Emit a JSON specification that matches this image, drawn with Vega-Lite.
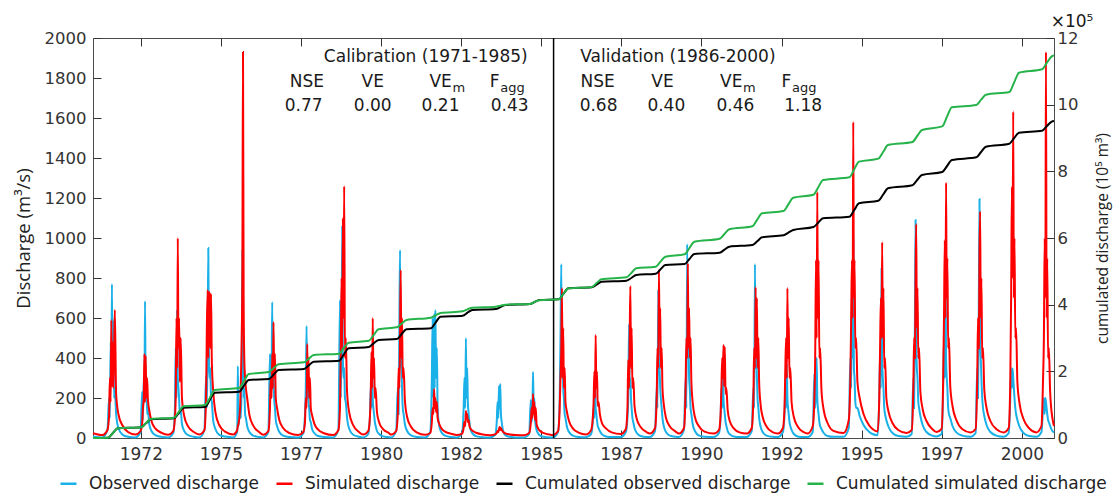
{
"$schema":"https://vega.github.io/schema/vega-lite/v6.json",
"width":961,"height":400,
"autosize":{"type":"none"},
"padding":{"left":93,"top":38,"right":63,"bottom":58},
"background":"#ffffff",
"config":{
"view":{"stroke":"#4d4d4d","strokeWidth":1},
"axis":{"domain":false,"grid":false,"tickColor":"#333333","tickSize":-8,"tickWidth":1,"labelFont":"DejaVu Sans","labelFontSize":16.5,"labelColor":"#333333","labelFlush":false,"labelOverlap":false,"titleFont":"Open Sans","titleFontSize":15.5,"titleFontWeight":"normal","titleColor":"#222222"},
"text":{"font":"DejaVu Sans","fontSize":17,"color":"#1a1a1a"}
},
"datasets":{
"q":[
{"t":1971.0,"o":8,"s":24},{"t":1971.29,"o":3,"s":15},{"t":1971.45,"o":40,"s":40},{"t":1971.5,"o":200,"s":110},{"t":1971.525,"o":100,"s":300},{"t":1971.55,"o":480,"s":180},{"t":1971.57,"o":300,"s":590},{"t":1971.59,"o":770,"s":260},{"t":1971.61,"o":280,"s":480},{"t":1971.63,"o":590,"s":250},{"t":1971.655,"o":200,"s":420},{"t":1971.68,"o":250,"s":640},{"t":1971.72,"o":120,"s":220},{"t":1971.79,"o":50,"s":120},{"t":1971.91,"o":18,"s":65},{"t":1972.09,"o":6,"s":30},
{"t":1972.32,"o":3,"s":17},{"t":1972.48,"o":30,"s":35},{"t":1972.53,"o":230,"s":70},{"t":1972.555,"o":90,"s":150},{"t":1972.58,"o":300,"s":200},{"t":1972.6,"o":180,"s":420},{"t":1972.62,"o":685,"s":180},{"t":1972.64,"o":220,"s":410},{"t":1972.66,"o":300,"s":200},{"t":1972.685,"o":120,"s":300},{"t":1972.71,"o":150,"s":190},{"t":1972.75,"o":70,"s":140},{"t":1972.82,"o":35,"s":85},{"t":1972.94,"o":14,"s":48},{"t":1973.12,"o":6,"s":27},
{"t":1973.34,"o":3,"s":16},{"t":1973.5,"o":25,"s":35},{"t":1973.55,"o":150,"s":100},{"t":1973.575,"o":450,"s":200},{"t":1973.6,"o":200,"s":600},{"t":1973.62,"o":640,"s":350},{"t":1973.64,"o":300,"s":1000},{"t":1973.66,"o":250,"s":450},{"t":1973.68,"o":200,"s":600},{"t":1973.705,"o":120,"s":280},{"t":1973.73,"o":140,"s":500},{"t":1973.77,"o":70,"s":200},{"t":1973.84,"o":35,"s":110},{"t":1973.96,"o":14,"s":58},{"t":1974.14,"o":6,"s":30},
{"t":1974.31,"o":3,"s":18},{"t":1974.47,"o":40,"s":40},{"t":1974.52,"o":310,"s":200},{"t":1974.545,"o":150,"s":560},{"t":1974.57,"o":500,"s":740},{"t":1974.59,"o":950,"s":400},{"t":1974.61,"o":400,"s":730},{"t":1974.63,"o":300,"s":720},{"t":1974.65,"o":350,"s":450},{"t":1974.675,"o":200,"s":720},{"t":1974.7,"o":180,"s":380},{"t":1974.74,"o":90,"s":240},{"t":1974.81,"o":45,"s":130},{"t":1974.93,"o":16,"s":65},{"t":1975.11,"o":7,"s":32},
{"t":1975.37,"o":3,"s":18},{"t":1975.49,"o":30,"s":40},{"t":1975.51,"o":360,"s":60},{"t":1975.53,"o":60,"s":70},{"t":1975.58,"o":150,"s":150},{"t":1975.605,"o":100,"s":300},{"t":1975.63,"o":300,"s":500},{"t":1975.65,"o":940,"s":820},{"t":1975.67,"o":600,"s":1930},{"t":1975.69,"o":200,"s":700},{"t":1975.71,"o":250,"s":400},{"t":1975.735,"o":120,"s":300},{"t":1975.76,"o":100,"s":250},{"t":1975.8,"o":60,"s":200},{"t":1975.87,"o":30,"s":115},{"t":1975.99,"o":12,"s":62},{"t":1976.17,"o":5,"s":30},
{"t":1976.3,"o":3,"s":16},{"t":1976.46,"o":30,"s":35},{"t":1976.51,"o":420,"s":150},{"t":1976.535,"o":200,"s":300},{"t":1976.56,"o":300,"s":200},{"t":1976.58,"o":680,"s":420},{"t":1976.6,"o":250,"s":250},{"t":1976.62,"o":350,"s":580},{"t":1976.64,"o":200,"s":300},{"t":1976.665,"o":150,"s":420},{"t":1976.69,"o":90,"s":200},{"t":1976.73,"o":60,"s":150},{"t":1976.8,"o":30,"s":90},{"t":1976.92,"o":12,"s":50},{"t":1977.1,"o":5,"s":26},
{"t":1977.39,"o":3,"s":15},{"t":1977.55,"o":25,"s":30},{"t":1977.6,"o":120,"s":80},{"t":1977.625,"o":250,"s":200},{"t":1977.65,"o":560,"s":150},{"t":1977.67,"o":200,"s":470},{"t":1977.69,"o":350,"s":250},{"t":1977.71,"o":180,"s":400},{"t":1977.73,"o":150,"s":200},{"t":1977.755,"o":90,"s":300},{"t":1977.78,"o":80,"s":150},{"t":1977.82,"o":45,"s":115},{"t":1977.89,"o":25,"s":72},{"t":1978.01,"o":10,"s":42},{"t":1978.19,"o":5,"s":24},
{"t":1978.48,"o":3,"s":15},{"t":1978.64,"o":40,"s":40},{"t":1978.69,"o":690,"s":150},{"t":1978.715,"o":200,"s":450},{"t":1978.74,"o":500,"s":800},{"t":1978.76,"o":1060,"s":450},{"t":1978.78,"o":400,"s":1100},{"t":1978.8,"o":300,"s":600},{"t":1978.82,"o":350,"s":1260},{"t":1978.845,"o":200,"s":400},{"t":1978.87,"o":180,"s":500},{"t":1978.91,"o":100,"s":230},{"t":1978.98,"o":45,"s":125},{"t":1979.1,"o":16,"s":64},{"t":1979.28,"o":6,"s":30},
{"t":1979.41,"o":3,"s":17},{"t":1979.57,"o":20,"s":35},{"t":1979.62,"o":100,"s":100},{"t":1979.645,"o":250,"s":200},{"t":1979.67,"o":150,"s":430},{"t":1979.69,"o":430,"s":250},{"t":1979.71,"o":200,"s":600},{"t":1979.73,"o":150,"s":300},{"t":1979.75,"o":120,"s":400},{"t":1979.775,"o":80,"s":200},{"t":1979.8,"o":60,"s":250},{"t":1979.84,"o":35,"s":130},{"t":1979.91,"o":20,"s":78},{"t":1980.03,"o":8,"s":44},{"t":1980.21,"o":4,"s":25},
{"t":1980.28,"o":3,"s":17},{"t":1980.44,"o":35,"s":35},{"t":1980.49,"o":250,"s":120},{"t":1980.515,"o":120,"s":350},{"t":1980.54,"o":600,"s":250},{"t":1980.56,"o":940,"s":500},{"t":1980.58,"o":350,"s":840},{"t":1980.6,"o":400,"s":400},{"t":1980.62,"o":250,"s":600},{"t":1980.645,"o":150,"s":300},{"t":1980.67,"o":120,"s":350},{"t":1980.71,"o":70,"s":190},{"t":1980.78,"o":35,"s":105},{"t":1980.9,"o":13,"s":56},{"t":1981.08,"o":5,"s":28},
{"t":1981.34,"o":3,"s":16},{"t":1981.5,"o":30,"s":25},{"t":1981.55,"o":300,"s":80},{"t":1981.575,"o":600,"s":150},{"t":1981.6,"o":200,"s":120},{"t":1981.62,"o":620,"s":245},{"t":1981.64,"o":250,"s":150},{"t":1981.66,"o":640,"s":200},{"t":1981.68,"o":300,"s":130},{"t":1981.705,"o":450,"s":180},{"t":1981.73,"o":150,"s":100},{"t":1981.77,"o":70,"s":75},{"t":1981.84,"o":30,"s":50},{"t":1981.96,"o":12,"s":32},{"t":1982.14,"o":5,"s":22},
{"t":1982.33,"o":3,"s":15},{"t":1982.49,"o":25,"s":22},{"t":1982.54,"o":150,"s":50},{"t":1982.565,"o":300,"s":80},{"t":1982.59,"o":150,"s":60},{"t":1982.61,"o":500,"s":135},{"t":1982.63,"o":200,"s":100},{"t":1982.65,"o":350,"s":120},{"t":1982.67,"o":180,"s":80},{"t":1982.695,"o":120,"s":90},{"t":1982.72,"o":80,"s":60},{"t":1982.76,"o":40,"s":45},{"t":1982.83,"o":20,"s":35},{"t":1982.95,"o":8,"s":25},{"t":1983.13,"o":4,"s":18},
{"t":1983.36,"o":3,"s":14},{"t":1983.52,"o":15,"s":18},{"t":1983.57,"o":80,"s":25},{"t":1983.595,"o":180,"s":35},{"t":1983.62,"o":100,"s":30},{"t":1983.64,"o":260,"s":45},{"t":1983.66,"o":150,"s":55},{"t":1983.68,"o":270,"s":40},{"t":1983.7,"o":120,"s":50},{"t":1983.725,"o":80,"s":40},{"t":1983.75,"o":50,"s":35},{"t":1983.79,"o":25,"s":28},{"t":1983.86,"o":12,"s":22},{"t":1983.98,"o":6,"s":18},{"t":1984.16,"o":3,"s":15},
{"t":1984.42,"o":3,"s":14},{"t":1984.58,"o":20,"s":25},{"t":1984.63,"o":190,"s":75},{"t":1984.655,"o":80,"s":150},{"t":1984.68,"o":120,"s":100},{"t":1984.7,"o":330,"s":220},{"t":1984.72,"o":150,"s":120},{"t":1984.74,"o":200,"s":180},{"t":1984.76,"o":100,"s":90},{"t":1984.785,"o":60,"s":150},{"t":1984.81,"o":40,"s":70},{"t":1984.85,"o":25,"s":50},{"t":1984.92,"o":12,"s":35},{"t":1985.04,"o":6,"s":24},{"t":1985.22,"o":3,"s":17},
{"t":1985.32,"o":3,"s":15},{"t":1985.48,"o":30,"s":35},{"t":1985.53,"o":200,"s":150},{"t":1985.555,"o":500,"s":300},{"t":1985.58,"o":870,"s":450},{"t":1985.6,"o":300,"s":750},{"t":1985.62,"o":400,"s":300},{"t":1985.64,"o":250,"s":550},{"t":1985.66,"o":200,"s":250},{"t":1985.685,"o":120,"s":350},{"t":1985.71,"o":100,"s":180},{"t":1985.75,"o":60,"s":135},{"t":1985.82,"o":30,"s":85},{"t":1985.94,"o":12,"s":48},{"t":1986.12,"o":5,"s":27},
{"t":1986.35,"o":4,"s":18},{"t":1986.51,"o":20,"s":40},{"t":1986.56,"o":80,"s":100},{"t":1986.585,"o":150,"s":173},{"t":1986.61,"o":100,"s":332},{"t":1986.63,"o":300,"s":200},{"t":1986.65,"o":150,"s":515},{"t":1986.67,"o":120,"s":250},{"t":1986.69,"o":90,"s":332},{"t":1986.715,"o":60,"s":160},{"t":1986.74,"o":50,"s":180},{"t":1986.78,"o":35,"s":120},{"t":1986.85,"o":18,"s":73},{"t":1986.97,"o":8,"s":48},{"t":1987.15,"o":5,"s":28},
{"t":1987.43,"o":5,"s":20},{"t":1987.59,"o":30,"s":45},{"t":1987.64,"o":100,"s":150},{"t":1987.665,"o":200,"s":390},{"t":1987.69,"o":570,"s":250},{"t":1987.71,"o":250,"s":500},{"t":1987.73,"o":300,"s":760},{"t":1987.75,"o":200,"s":350},{"t":1987.77,"o":150,"s":550},{"t":1987.795,"o":100,"s":250},{"t":1987.82,"o":80,"s":300},{"t":1987.86,"o":50,"s":160},{"t":1987.93,"o":25,"s":95},{"t":1988.05,"o":10,"s":55},{"t":1988.23,"o":5,"s":30},
{"t":1988.34,"o":5,"s":22},{"t":1988.5,"o":35,"s":50},{"t":1988.55,"o":250,"s":200},{"t":1988.575,"o":150,"s":450},{"t":1988.6,"o":740,"s":350},{"t":1988.62,"o":400,"s":840},{"t":1988.64,"o":350,"s":500},{"t":1988.66,"o":250,"s":650},{"t":1988.68,"o":200,"s":350},{"t":1988.705,"o":150,"s":450},{"t":1988.73,"o":100,"s":250},{"t":1988.77,"o":60,"s":170},{"t":1988.84,"o":30,"s":100},{"t":1988.96,"o":12,"s":58},{"t":1989.14,"o":6,"s":32},
{"t":1989.24,"o":5,"s":22},{"t":1989.4,"o":40,"s":50},{"t":1989.45,"o":300,"s":250},{"t":1989.475,"o":150,"s":500},{"t":1989.5,"o":970,"s":400},{"t":1989.52,"o":400,"s":875},{"t":1989.54,"o":500,"s":450},{"t":1989.56,"o":300,"s":650},{"t":1989.58,"o":250,"s":400},{"t":1989.605,"o":150,"s":500},{"t":1989.63,"o":120,"s":280},{"t":1989.67,"o":70,"s":180},{"t":1989.74,"o":35,"s":105},{"t":1989.86,"o":13,"s":60},{"t":1990.04,"o":6,"s":32},
{"t":1990.33,"o":5,"s":22},{"t":1990.49,"o":25,"s":40},{"t":1990.54,"o":100,"s":120},{"t":1990.565,"o":250,"s":250},{"t":1990.59,"o":150,"s":400},{"t":1990.61,"o":390,"s":300},{"t":1990.63,"o":200,"s":465},{"t":1990.65,"o":150,"s":260},{"t":1990.67,"o":120,"s":455},{"t":1990.695,"o":80,"s":220},{"t":1990.72,"o":60,"s":250},{"t":1990.76,"o":35,"s":140},{"t":1990.83,"o":18,"s":82},{"t":1990.95,"o":8,"s":48},{"t":1991.13,"o":5,"s":28},
{"t":1991.35,"o":5,"s":22},{"t":1991.51,"o":35,"s":50},{"t":1991.56,"o":250,"s":200},{"t":1991.585,"o":150,"s":450},{"t":1991.61,"o":870,"s":350},{"t":1991.63,"o":350,"s":755},{"t":1991.65,"o":450,"s":400},{"t":1991.67,"o":300,"s":700},{"t":1991.69,"o":200,"s":350},{"t":1991.715,"o":150,"s":500},{"t":1991.74,"o":100,"s":280},{"t":1991.78,"o":60,"s":175},{"t":1991.85,"o":30,"s":105},{"t":1991.97,"o":12,"s":58},{"t":1992.15,"o":6,"s":30},
{"t":1992.32,"o":5,"s":22},{"t":1992.48,"o":30,"s":50},{"t":1992.53,"o":120,"s":150},{"t":1992.555,"o":250,"s":350},{"t":1992.58,"o":150,"s":500},{"t":1992.6,"o":370,"s":300},{"t":1992.62,"o":200,"s":750},{"t":1992.64,"o":150,"s":400},{"t":1992.66,"o":120,"s":600},{"t":1992.685,"o":80,"s":300},{"t":1992.71,"o":60,"s":350},{"t":1992.75,"o":40,"s":180},{"t":1992.82,"o":20,"s":105},{"t":1992.94,"o":8,"s":58},{"t":1993.12,"o":5,"s":30},
{"t":1993.25,"o":5,"s":22},{"t":1993.41,"o":30,"s":60},{"t":1993.46,"o":323,"s":200},{"t":1993.485,"o":150,"s":407},{"t":1993.51,"o":250,"s":890},{"t":1993.53,"o":400,"s":500},{"t":1993.55,"o":200,"s":1230},{"t":1993.57,"o":150,"s":600},{"t":1993.59,"o":120,"s":890},{"t":1993.615,"o":80,"s":400},{"t":1993.64,"o":60,"s":450},{"t":1993.68,"o":45,"s":240},{"t":1993.75,"o":25,"s":140},{"t":1993.87,"o":10,"s":75},{"t":1994.05,"o":6,"s":36},
{"t":1994.37,"o":6,"s":25},{"t":1994.53,"o":50,"s":90},{"t":1994.58,"o":400,"s":300},{"t":1994.605,"o":250,"s":600},{"t":1994.63,"o":757,"s":890},{"t":1994.65,"o":400,"s":600},{"t":1994.67,"o":1000,"s":1580},{"t":1994.69,"o":350,"s":700},{"t":1994.71,"o":300,"s":890},{"t":1994.735,"o":180,"s":450},{"t":1994.76,"o":150,"s":500},{"t":1994.8,"o":150,"s":280},{"t":1994.87,"o":110,"s":200},{"t":1994.99,"o":65,"s":120},{"t":1995.17,"o":30,"s":62},
{"t":1995.27,"o":20,"s":45},{"t":1995.43,"o":14,"s":33},{"t":1995.48,"o":200,"s":200},{"t":1995.505,"o":420,"s":450},{"t":1995.53,"o":250,"s":700},{"t":1995.55,"o":850,"s":500},{"t":1995.57,"o":400,"s":980},{"t":1995.59,"o":300,"s":500},{"t":1995.61,"o":250,"s":750},{"t":1995.635,"o":150,"s":350},{"t":1995.66,"o":120,"s":400},{"t":1995.7,"o":90,"s":200},{"t":1995.77,"o":55,"s":130},{"t":1995.89,"o":25,"s":75},{"t":1996.07,"o":10,"s":40},
{"t":1996.33,"o":6,"s":25},{"t":1996.49,"o":20,"s":40},{"t":1996.54,"o":300,"s":250},{"t":1996.565,"o":150,"s":500},{"t":1996.59,"o":600,"s":400},{"t":1996.61,"o":1090,"s":800},{"t":1996.63,"o":500,"s":1070},{"t":1996.65,"o":350,"s":550},{"t":1996.67,"o":300,"s":750},{"t":1996.695,"o":180,"s":400},{"t":1996.72,"o":150,"s":450},{"t":1996.76,"o":110,"s":230},{"t":1996.83,"o":65,"s":145},{"t":1996.95,"o":30,"s":85},{"t":1997.13,"o":12,"s":45},
{"t":1997.26,"o":8,"s":30},{"t":1997.42,"o":20,"s":45},{"t":1997.47,"o":250,"s":300},{"t":1997.495,"o":500,"s":600},{"t":1997.52,"o":300,"s":990},{"t":1997.54,"o":850,"s":600},{"t":1997.56,"o":400,"s":1277},{"t":1997.58,"o":300,"s":700},{"t":1997.6,"o":250,"s":900},{"t":1997.625,"o":150,"s":450},{"t":1997.65,"o":120,"s":500},{"t":1997.69,"o":100,"s":260},{"t":1997.76,"o":60,"s":160},{"t":1997.88,"o":28,"s":90},{"t":1998.06,"o":12,"s":45},
{"t":1998.32,"o":6,"s":28},{"t":1998.48,"o":25,"s":45},{"t":1998.53,"o":350,"s":300},{"t":1998.555,"o":200,"s":600},{"t":1998.58,"o":700,"s":450},{"t":1998.6,"o":1195,"s":900},{"t":1998.62,"o":500,"s":1133},{"t":1998.64,"o":400,"s":600},{"t":1998.66,"o":300,"s":800},{"t":1998.685,"o":200,"s":400},{"t":1998.71,"o":150,"s":450},{"t":1998.75,"o":110,"s":240},{"t":1998.82,"o":65,"s":150},{"t":1998.94,"o":30,"s":85},{"t":1999.12,"o":12,"s":45},
{"t":1999.35,"o":6,"s":28},{"t":1999.51,"o":25,"s":50},{"t":1999.56,"o":200,"s":300},{"t":1999.585,"o":350,"s":700},{"t":1999.61,"o":250,"s":1257},{"t":1999.63,"o":348,"s":800},{"t":1999.65,"o":300,"s":1632},{"t":1999.67,"o":250,"s":700},{"t":1999.69,"o":200,"s":1000},{"t":1999.715,"o":150,"s":500},{"t":1999.74,"o":120,"s":550},{"t":1999.78,"o":90,"s":280},{"t":1999.85,"o":55,"s":170},{"t":1999.97,"o":25,"s":95},{"t":2000.15,"o":10,"s":48},
{"t":2000.37,"o":6,"s":28},{"t":2000.53,"o":30,"s":60},{"t":2000.58,"o":150,"s":300},{"t":2000.605,"o":200,"s":500},{"t":2000.63,"o":120,"s":1000},{"t":2000.65,"o":200,"s":700},{"t":2000.67,"o":180,"s":1930},{"t":2000.69,"o":150,"s":600},{"t":2000.71,"o":120,"s":900},{"t":2000.735,"o":90,"s":400},{"t":2000.76,"o":80,"s":450},{"t":2000.8,"o":60,"s":230},{"t":2000.87,"o":35,"s":100},{"t":2000.92,"o":28,"s":60}
],
"c":[
{"t":1971.0,"co":0,"cs":0},
{"t":1971.47,"co":0.01,"cs":0.01},{"t":1971.62,"co":0.15,"cs":0.15},{"t":1971.77,"co":0.29,"cs":0.29},
{"t":1972.5,"co":0.32,"cs":0.32},{"t":1972.65,"co":0.44,"cs":0.45},{"t":1972.8,"co":0.56,"cs":0.57},
{"t":1973.52,"co":0.59,"cs":0.61},{"t":1973.67,"co":0.75,"cs":0.78},{"t":1973.82,"co":0.91,"cs":0.95},
{"t":1974.49,"co":0.93,"cs":0.99},{"t":1974.64,"co":1.15,"cs":1.21},{"t":1974.79,"co":1.36,"cs":1.44},
{"t":1975.55,"co":1.39,"cs":1.5},{"t":1975.7,"co":1.57,"cs":1.71},{"t":1975.85,"co":1.74,"cs":1.92},
{"t":1976.48,"co":1.77,"cs":1.98},{"t":1976.63,"co":1.91,"cs":2.1},{"t":1976.78,"co":2.04,"cs":2.21},
{"t":1977.57,"co":2.07,"cs":2.27},{"t":1977.72,"co":2.18,"cs":2.38},{"t":1977.87,"co":2.29,"cs":2.49},
{"t":1978.66,"co":2.32,"cs":2.53},{"t":1978.81,"co":2.51,"cs":2.7},{"t":1978.96,"co":2.69,"cs":2.86},
{"t":1979.59,"co":2.73,"cs":2.92},{"t":1979.74,"co":2.84,"cs":3.09},{"t":1979.89,"co":2.94,"cs":3.26},
{"t":1980.46,"co":2.97,"cs":3.32},{"t":1980.61,"co":3.12,"cs":3.43},{"t":1980.76,"co":3.26,"cs":3.54},
{"t":1981.52,"co":3.29,"cs":3.61},{"t":1981.67,"co":3.47,"cs":3.68},{"t":1981.82,"co":3.64,"cs":3.75},
{"t":1982.51,"co":3.67,"cs":3.8},{"t":1982.66,"co":3.76,"cs":3.86},{"t":1982.81,"co":3.84,"cs":3.91},
{"t":1983.54,"co":3.87,"cs":3.94},{"t":1983.69,"co":3.93,"cs":3.97},{"t":1983.84,"co":3.99,"cs":4.0},
{"t":1984.6,"co":4.02,"cs":4.02},{"t":1984.75,"co":4.08,"cs":4.08},{"t":1984.9,"co":4.14,"cs":4.13},
{"t":1985.5,"co":4.16,"cs":4.16},{"t":1985.65,"co":4.33,"cs":4.33},{"t":1985.8,"co":4.49,"cs":4.49},
{"t":1986.53,"co":4.52,"cs":4.53},{"t":1986.68,"co":4.6,"cs":4.65},{"t":1986.83,"co":4.69,"cs":4.76},
{"t":1987.61,"co":4.72,"cs":4.82},{"t":1987.76,"co":4.8,"cs":4.95},{"t":1987.91,"co":4.89,"cs":5.09},
{"t":1988.52,"co":4.93,"cs":5.14},{"t":1988.67,"co":5.06,"cs":5.29},{"t":1988.82,"co":5.19,"cs":5.44},
{"t":1989.42,"co":5.22,"cs":5.51},{"t":1989.57,"co":5.37,"cs":5.7},{"t":1989.72,"co":5.52,"cs":5.89},
{"t":1990.51,"co":5.56,"cs":5.98},{"t":1990.66,"co":5.65,"cs":6.12},{"t":1990.81,"co":5.74,"cs":6.26},
{"t":1991.53,"co":5.79,"cs":6.35},{"t":1991.68,"co":5.9,"cs":6.55},{"t":1991.83,"co":6.02,"cs":6.74},
{"t":1992.5,"co":6.08,"cs":6.81},{"t":1992.65,"co":6.16,"cs":7.01},{"t":1992.8,"co":6.24,"cs":7.21},
{"t":1993.43,"co":6.33,"cs":7.3},{"t":1993.58,"co":6.46,"cs":7.52},{"t":1993.73,"co":6.59,"cs":7.74},
{"t":1994.55,"co":6.64,"cs":7.82},{"t":1994.7,"co":6.84,"cs":8.06},{"t":1994.85,"co":7.04,"cs":8.29},
{"t":1995.45,"co":7.12,"cs":8.38},{"t":1995.6,"co":7.3,"cs":8.58},{"t":1995.75,"co":7.49,"cs":8.79},
{"t":1996.51,"co":7.58,"cs":8.88},{"t":1996.66,"co":7.74,"cs":9.06},{"t":1996.81,"co":7.89,"cs":9.24},
{"t":1997.44,"co":7.98,"cs":9.35},{"t":1997.59,"co":8.16,"cs":9.64},{"t":1997.74,"co":8.34,"cs":9.92},
{"t":1998.5,"co":8.42,"cs":9.99},{"t":1998.65,"co":8.58,"cs":10.15},{"t":1998.8,"co":8.74,"cs":10.3},
{"t":1999.53,"co":8.83,"cs":10.38},{"t":1999.68,"co":9.0,"cs":10.67},{"t":1999.83,"co":9.16,"cs":10.96},
{"t":2000.55,"co":9.22,"cs":11.06},{"t":2000.7,"co":9.36,"cs":11.26},{"t":2000.85,"co":9.49,"cs":11.45},
{"t":2000.92,"co":9.51,"cs":11.48}
],
"div":[{"t":1985.34}],
"ann_c":[
{"t":1981.36,"v":1907,"txt":"Calibration (1971-1985)"},
{"t":1977.66,"v":1781,"txt":"NSE"},
{"t":1979.71,"v":1781,"txt":"VE"},
{"t":1977.56,"v":1660,"txt":"0.77"},
{"t":1979.71,"v":1660,"txt":"0.00"},
{"t":1981.82,"v":1660,"txt":"0.21"},
{"t":1983.97,"v":1660,"txt":"0.43"},
{"t":1989.21,"v":1907,"txt":"Validation (1986-2000)"},
{"t":1986.71,"v":1781,"txt":"NSE"},
{"t":1988.73,"v":1781,"txt":"VE"},
{"t":1986.74,"v":1660,"txt":"0.68"},
{"t":1988.85,"v":1660,"txt":"0.40"},
{"t":1991.0,"v":1660,"txt":"0.46"},
{"t":1993.11,"v":1660,"txt":"1.18"},
{"t":2001.48,"v":2082,"txt":"×10⁵"}
],
"ann_r":[
{"t":1982.17,"v":1781,"txt":"VE"},
{"t":1983.66,"v":1781,"txt":"F"},
{"t":1991.22,"v":1781,"txt":"VE"},
{"t":1992.74,"v":1781,"txt":"F"}
],
"ann_s":[
{"t":1982.19,"v":1752,"txt":"m"},
{"t":1983.68,"v":1752,"txt":"agg"},
{"t":1991.24,"v":1752,"txt":"m"},
{"t":1992.76,"v":1752,"txt":"agg"}
]
},
"layer":[
{
"encoding":{
"x":{"field":"t","type":"quantitative","title":null,"scale":{"domain":[1971,2000.92],"nice":false,"zero":false},
"axis":{"orient":"bottom","values":[1972.49,1974.98,1977.48,1979.97,1982.46,1984.96,1987.45,1989.94,1992.44,1994.93,1997.42,1999.92],"labelExpr":"round(datum.value)","labelFontSize":17,"labelPadding":16,"labelOverlap":false}}
},
"layer":[
{"data":{"name":"q"},
"mark":{"type":"line","strokeWidth":2,"interpolate":"monotone"},
"encoding":{
"y":{"field":"o","type":"quantitative","title":"Discharge (m³/s)","scale":{"domain":[0,2000],"nice":false},
"axis":{"orient":"left","values":[0,200,400,600,800,1000,1200,1400,1600,1800,2000],"format":"d","labelOverlap":false,"titlePadding":11,"labelPadding":15,"titleFontSize":18.5}},
"color":{"datum":"Observed discharge","type":"nominal",
"scale":{"domain":["Observed discharge","Simulated discharge","Cumulated observed discharge","Cumulated simulated discharge"],"range":["#1ab0e8","#ff0000","#000000","#26b34a"]},
"legend":{"orient":"none","legendX":-34,"legendY":436,"direction":"horizontal","columns":4,"title":null,"symbolType":"stroke","symbolSize":256,"symbolStrokeWidth":2.5,"labelFont":"DejaVu Sans","labelFontSize":17,"labelColor":"#222222","labelOffset":11,"columnPadding":11,"padding":0,"labelLimit":400}}
}},
{"data":{"name":"q"},
"mark":{"type":"line","strokeWidth":2,"interpolate":"monotone"},
"encoding":{
"y":{"field":"s","type":"quantitative","title":"Discharge (m³/s)",
"axis":{"orient":"left","values":[0,200,400,600,800,1000,1200,1400,1600,1800,2000],"format":"d","labelOverlap":false,"titlePadding":11,"labelPadding":15,"titleFontSize":18.5}},
"color":{"datum":"Simulated discharge","type":"nominal"}
}},
{"data":{"name":"div"},
"mark":{"type":"rule","color":"#000000","strokeWidth":1.5},
"encoding":{}},
{"data":{"name":"ann_c"},
"mark":{"type":"text","align":"center","baseline":"middle"},
"encoding":{"y":{"field":"v","type":"quantitative","title":"Discharge (m³/s)",
"axis":{"orient":"left","values":[0,200,400,600,800,1000,1200,1400,1600,1800,2000],"format":"d","labelOverlap":false,"titlePadding":11,"labelPadding":15,"titleFontSize":18.5}},"text":{"field":"txt"}}},
{"data":{"name":"ann_r"},
"mark":{"type":"text","align":"right","baseline":"middle"},
"encoding":{"y":{"field":"v","type":"quantitative","title":"Discharge (m³/s)",
"axis":{"orient":"left","values":[0,200,400,600,800,1000,1200,1400,1600,1800,2000],"format":"d","labelOverlap":false,"titlePadding":11,"labelPadding":15,"titleFontSize":18.5}},"text":{"field":"txt"}}},
{"data":{"name":"ann_s"},
"mark":{"type":"text","align":"left","baseline":"middle","fontSize":13},
"encoding":{"y":{"field":"v","type":"quantitative","title":"Discharge (m³/s)",
"axis":{"orient":"left","values":[0,200,400,600,800,1000,1200,1400,1600,1800,2000],"format":"d","labelOverlap":false,"titlePadding":11,"labelPadding":15,"titleFontSize":18.5}},"text":{"field":"txt"}}}
]
},
{
"data":{"name":"c"},
"encoding":{
"x":{"field":"t","type":"quantitative","title":null,"axis":{"orient":"top","values":[1972.49,1974.98,1977.48,1979.97,1982.46,1984.96,1987.45,1989.94,1992.44,1994.93,1997.42,1999.92],"labels":false}}
},
"layer":[
{"mark":{"type":"line","strokeWidth":2,"interpolate":"monotone"},
"encoding":{
"y":{"field":"co","type":"quantitative","title":"cumulated discharge (10⁵ m³)","scale":{"domain":[0,12],"nice":false},
"axis":{"orient":"right","values":[0,2,4,6,8,10,12],"format":"d","labelOverlap":false,"titleAngle":270,"titleBaseline":"top","titlePadding":18,"labelPadding":11}},
"color":{"datum":"Cumulated observed discharge","type":"nominal"}
}},
{"mark":{"type":"line","strokeWidth":2,"interpolate":"monotone"},
"encoding":{
"y":{"field":"cs","type":"quantitative","title":"cumulated discharge (10⁵ m³)",
"axis":{"orient":"right","values":[0,2,4,6,8,10,12],"format":"d","labelOverlap":false,"titleAngle":270,"titleBaseline":"top","titlePadding":18,"labelPadding":11}},
"color":{"datum":"Cumulated simulated discharge","type":"nominal"}
}}
]
}
],
"resolve":{"scale":{"y":"independent"},"axis":{"x":"independent","y":"independent"}}
}
